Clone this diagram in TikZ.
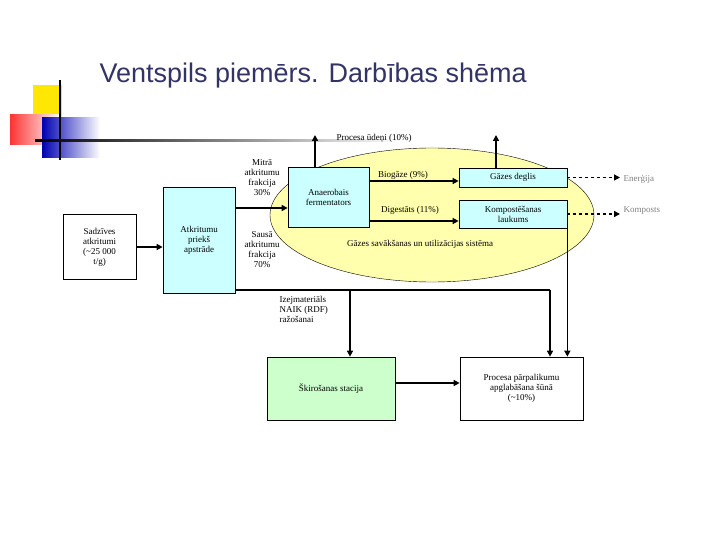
\documentclass[tikz,border=0pt]{standalone}
\usepackage{fontspec}
\setmainfont{Liberation Serif}
\setsansfont{Liberation Sans}
\usetikzlibrary{calc,positioning,arrows.meta}
\definecolor{boxcyan}{HTML}{CCFFFF}
\definecolor{boxgreen}{HTML}{CCFFCC}
\definecolor{ellyellow}{HTML}{FFFF99}
\definecolor{titleblue}{HTML}{333366}
\tikzset{
  blk/.style={draw, line width=0.7pt, align=center, font=\fontsize{9}{10}\selectfont},
  lbl/.style={align=center, font=\fontsize{9}{10}\selectfont},
  flow/.style={line width=1.6pt, -{Triangle[length=6pt,width=6pt]}},
  dflow/.style={line width=1.3pt, dashed, -{Triangle[length=6pt,width=6pt]}}
}
\begin{document}
\begin{tikzpicture}[x=1pt,y=-1pt]
\useasboundingbox (0,0) rectangle (720,540);

%Decoration
\fill[yellow!90!orange] (33,85) rectangle (62,118);
\shade[left color=red!80, right color=white] (10,115) rectangle (60,145);
\shade[left color=blue!70!black, right color=white] (42,118) rectangle (100,158);
\draw[line width=1.5pt] (60,80) -- (60,160);
\shade[left color=black, right color=white] (35,140) rectangle (400,142);
\node[font=\sffamily\fontsize{27}{29}\selectfont, text=titleblue, anchor=west] (title) at (96,76) {Ventspils piemērs. Darbības shēma};

%Ellipse
\draw[fill=ellyellow!80] (432,215) ellipse (162 and 67);
\node[lbl] (sys) at (420,244) {Gāzes savākšanas un utilizācijas sistēma};

%Boxes
\node[blk, fill=white, minimum width=73, minimum height=65] (sadz) at (99.5,247) {Sadzīves\\atkritumi\\(\textasciitilde 25 000\\t/g)};
\node[blk, fill=boxcyan, minimum width=72, minimum height=106] (prieks) at (199,240) {Atkritumu\\priekš\\apstrāde};
\node[blk, fill=boxcyan, minimum width=81, minimum height=60] (ferm) at (328.5,197) {Anaerobais\\fermentators};
\node[blk, fill=boxcyan, minimum width=108, minimum height=19] (degl) at (513,177.5) {Gāzes deglis};
\node[blk, fill=boxcyan, minimum width=108, minimum height=28] (komp) at (513,214) {Kompostēšanas\\laukums};
\node[blk, fill=boxgreen, minimum width=128, minimum height=63] (skir) at (331,388.5) {Škirošanas stacija};
\node[blk, fill=white, minimum width=123, minimum height=63] (apgl) at (521.5,388.5) {Procesa pārpalikumu\\apglabāšana šūnā\\(\textasciitilde 10\%)};

%Labels
\node[lbl] (mitra) at (262,178) {Mitrā\\atkritumu\\frakcija\\30\%};
\node[lbl] (sausa) at (262,250) {Sausā\\atkritumu\\frakcija\\70\%};
\node[lbl, anchor=west] (udeni) at (333,138) {Procesa ūdeņi (10\%)};
\node[lbl] (biog) at (403,175) {Biogāze (9\%)};
\node[lbl] (dig) at (410,210) {Digestāts (11\%)};
\node[lbl, text=gray, anchor=west] (energ) at (620,179) {Enerģija};
\node[lbl, text=gray, anchor=west] (kompo) at (620,211) {Komposts};
\node[lbl, align=left, anchor=north west] (izej) at (276,293) {Izejmateriāls\\NAIK (RDF)\\ražošanai};

%Aux
\coordinate (wet) at (0,208);
\coordinate (gas) at (0,181);
\coordinate (dig) at (0,221);
\coordinate (sort) at (0,383);
\coordinate (corner) at (550,290);
\coordinate (split) at (350,290);
\coordinate (ferm up) at (315,135);
\coordinate (degl up) at (496,135);

%Flows
\draw[flow] (sadz.east) -- (sadz.east -| prieks.west);
\draw[flow] (wet -| prieks.east) -- (wet -| ferm.west);
\draw[flow] (gas -| ferm.east) -- (gas -| degl.west);
\draw[flow] (dig -| ferm.east) -- (dig -| komp.west);
\draw[flow] (ferm.north -| ferm up) -- (ferm up);
\draw[flow] (degl.north -| degl up) -- (degl up);
\draw[dflow] (degl.east) -- (degl.east -| energ.west);
\draw[dflow] (komp.east) -- (komp.east -| kompo.west);
\draw[line width=1.2pt] (corner -| prieks.east) -- (corner);
\draw[flow] (corner) -- (apgl.north -| corner);
\draw[flow] (split) -- (skir.north -| split);
\draw[flow] (komp.south east) -- (apgl.north -| komp.south east);
\draw[flow] (sort -| skir.east) -- (sort -| apgl.west);
\end{tikzpicture}
\end{document}
